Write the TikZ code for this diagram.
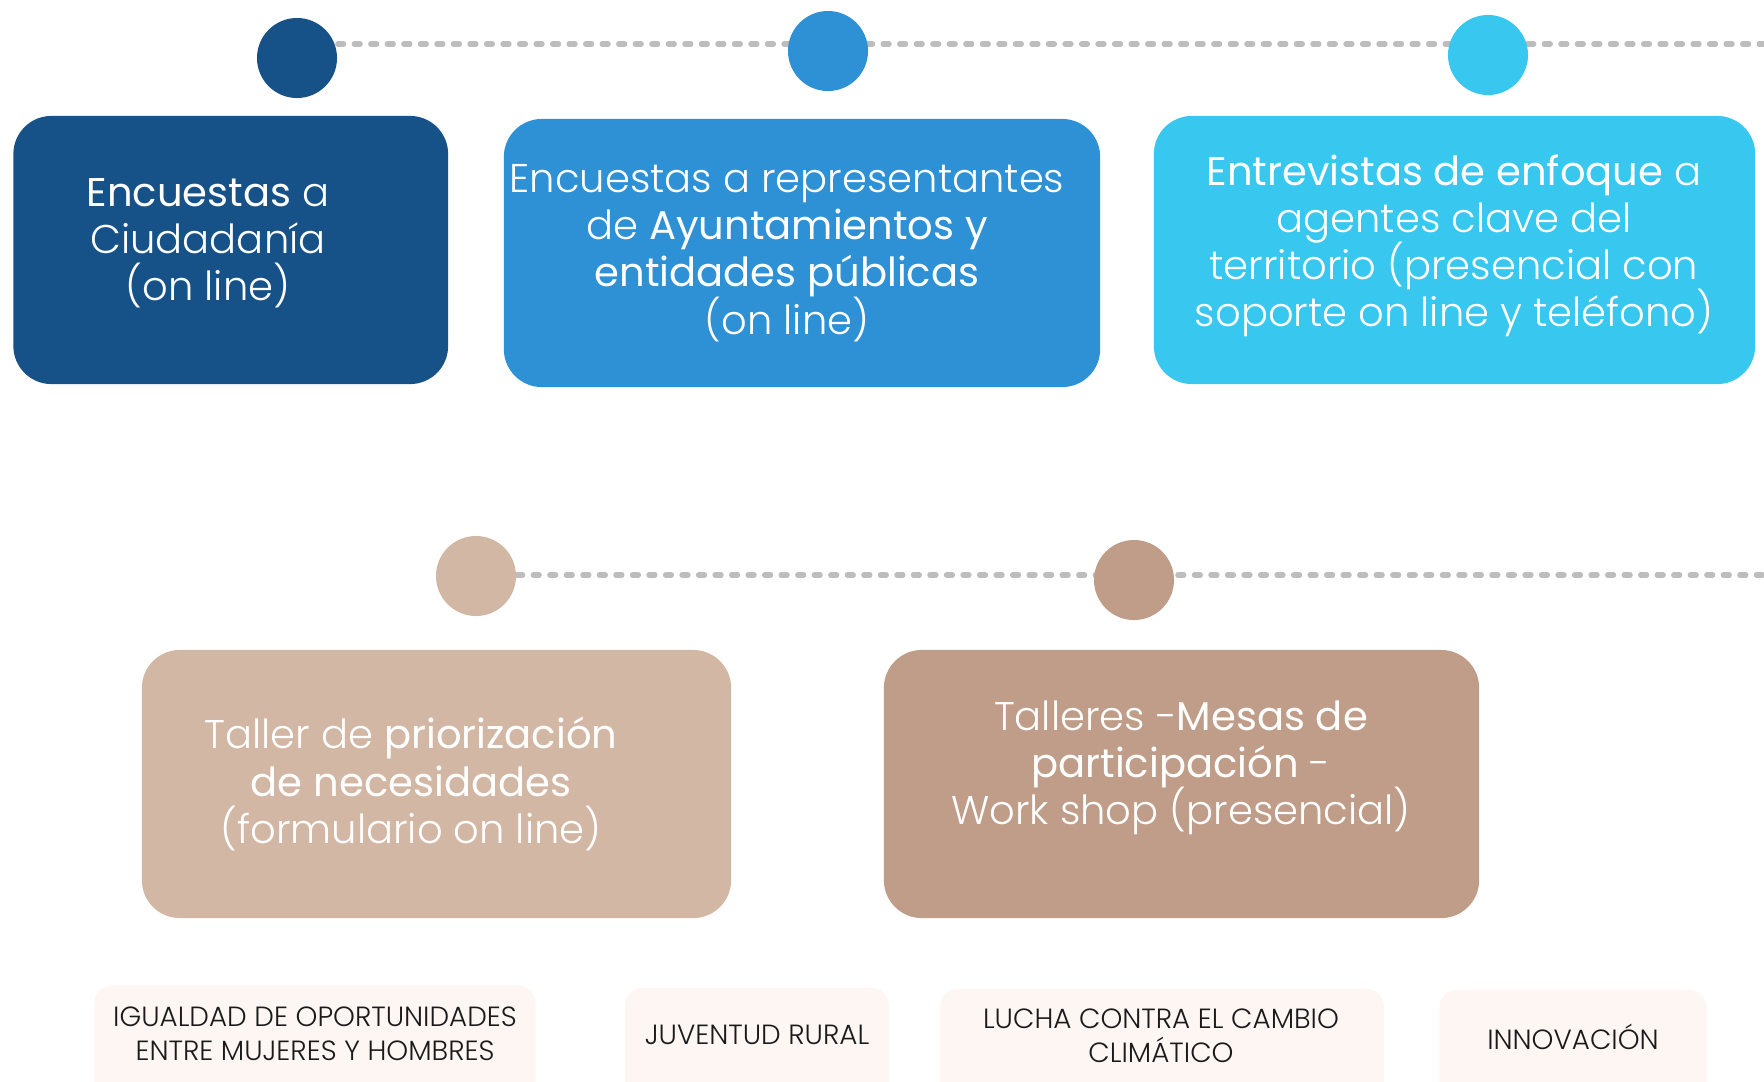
\documentclass[tikz,border=0pt]{standalone}
\usepackage{fontspec}
\setmainfont{Poppins}[UprightFont={* Light}, BoldFont={*}]
\usepackage{xcolor}
\usepackage{tikz}
\usetikzlibrary{positioning,backgrounds}
\definecolor{azuloscuro}{HTML}{165288}
\definecolor{azulmedio}{HTML}{2E91D5}
\definecolor{azulclaro}{HTML}{38C7EF}
\definecolor{arena}{HTML}{D3B7A5}
\definecolor{tierra}{HTML}{BF9D89}
\definecolor{rosado}{HTML}{FDF6F3}
\definecolor{gris}{HTML}{BDBDBD}
\definecolor{tinta}{HTML}{1A1A1A}
\newcommand{\fuentecaja}{\fontsize{11.4}{13.4}\selectfont\lineskiplimit=-6pt\relax}
\newcommand{\fuenteetiqueta}{\fontsize{7.9}{9.6}\selectfont\lineskiplimit=-6pt\relax}
\tikzset{
    hito/.style={circle, minimum size=8mm, inner sep=0pt},
    caja/.style={rounded corners=3.8mm, inner sep=0pt},
    textocaja/.style={text=white, align=center, inner sep=0pt, font=\fuentecaja},
    etiqueta/.style={fill=rosado, rounded corners=1.7mm, inner sep=0pt},
    textoetiqueta/.style={text=tinta, align=center, inner sep=0pt, font=\fuenteetiqueta},
    eje/.style={draw=gris, line width=1.5pt, line cap=round, dash pattern=on 1.7pt off 3pt}
}

\begin{document}
\begin{tikzpicture}[x=0.01cm, y=-0.01cm]
    \useasboundingbox (0,0) rectangle (1764,1081);

    \node[hito, fill=azuloscuro] (c1) at (297,58) {};
    \node[hito, fill=azulmedio] (c2) at (828,51) {};
    \node[hito, fill=azulclaro] (c3) at (1488,55) {};
    \node[hito, fill=arena] (c4) at (476,576) {};
    \node[hito, fill=tierra] (c5) at (1134,580) {};
    \coordinate (finA) at (1770,44);
    \coordinate (finB) at (1770,575);

    \begin{pgfonlayer}{background}
    \draw[eje] (c1.east |- finA) -- (finA);
    \draw[eje] (c4.east |- finB) -- (finB);
    \end{pgfonlayer}

    \node[caja, fill=azuloscuro, minimum width=4.345cm, minimum height=2.68cm] (b1) at (230.75,250) {};
    \node[caja, fill=azulmedio, minimum width=5.96cm, minimum height=2.68cm] (b2) at (802,253) {};
    \node[caja, fill=azulclaro, minimum width=6.01cm, minimum height=2.68cm] (b3) at (1454.5,250) {};
    \node[caja, fill=arena, minimum width=5.89cm, minimum height=2.68cm] (b4) at (436.5,784) {};
    \node[caja, fill=tierra, minimum width=5.95cm, minimum height=2.68cm] (b5) at (1181.5,784) {};

    \node[textocaja] (t1) at (208,243) {\textbf{Encuestas} a\\Ciudadanía\\(on line)};
    \node[textocaja] (t2) at (787,253) {Encuestas a representantes\\de \textbf{Ayuntamientos y}\\\textbf{entidades públicas}\\(on line)};
    \node[textocaja] (t3) at (1454,246) {\textbf{Entrevistas de enfoque} a\\agentes clave del\\territorio (presencial con\\soporte on line y teléfono)};
    \node[textocaja] (t4) at (411,784) {Taller de \textbf{priorización}\\\textbf{de necesidades}\\(formulario on line)};
    \node[textocaja] (t5) at (1181,768) {Talleres -\textbf{Mesas de}\\\textbf{participación} -\\Work shop (presencial)};

    \node[etiqueta, minimum width=4.41cm, minimum height=1.15cm] (e1) at (315,1043) {};
    \node[etiqueta, minimum width=2.635cm, minimum height=1.12cm] (e2) at (757,1044) {};
    \node[etiqueta, minimum width=4.435cm, minimum height=1.11cm] (e3) at (1162,1044.5) {};
    \node[etiqueta, minimum width=2.67cm, minimum height=1.10cm] (e4) at (1573,1045) {};

    \node[textoetiqueta] (l1) at (315,1034) {IGUALDAD DE OPORTUNIDADES\\ENTRE MUJERES Y HOMBRES};
    \node[textoetiqueta] (l2) at (757,1035) {JUVENTUD RURAL};
    \node[textoetiqueta] (l3) at (1161,1036) {LUCHA CONTRA EL CAMBIO\\CLIMÁTICO};
    \node[textoetiqueta] (l4) at (1573,1037) {INNOVACIÓN};
\end{tikzpicture}
\end{document}
